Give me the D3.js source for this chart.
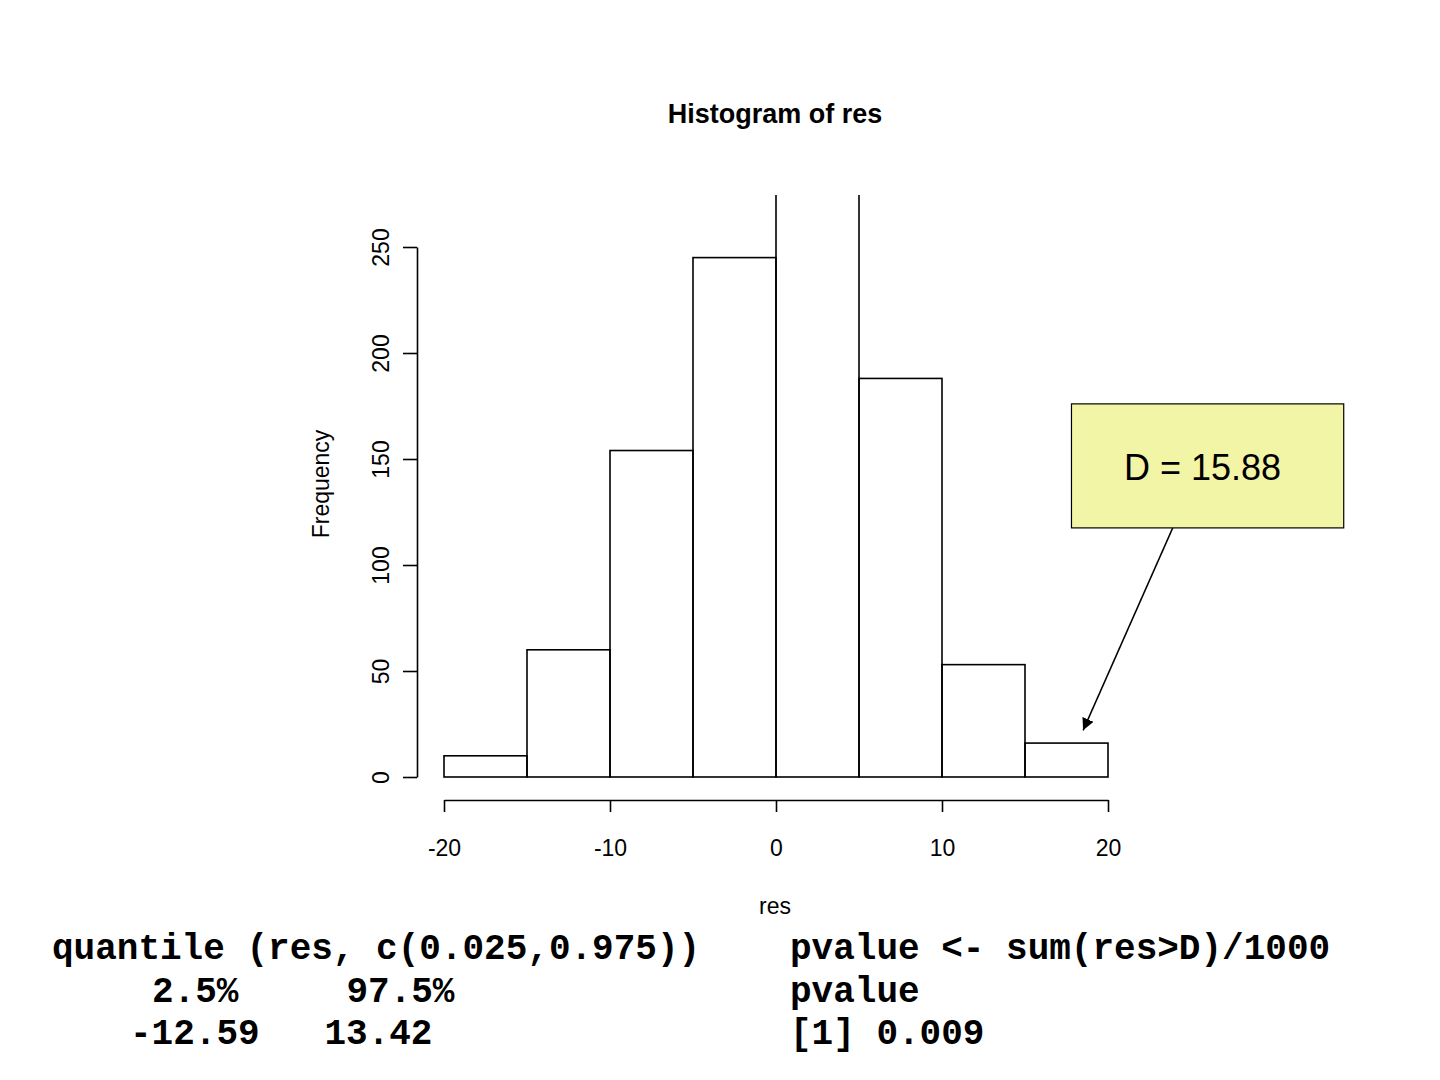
<!DOCTYPE html>
<html>
<head>
<meta charset="utf-8">
<script src="https://cdn.jsdelivr.net/npm/d3@7"></script>
<style>
  body { margin: 0; background: #fff; }
  svg { display: block; }
  .code { font-family: "Liberation Mono", "Courier New", monospace; font-weight: bold; font-size: 36px; white-space: pre; }
</style>
</head>
<body>
<svg id="chart"></svg>
<script>
// histogram bins of res (1000 permutations)
let binStarts = [-20, -15, -10, -5, 0, 5, 10, 15]
let binWidth = 5
let counts = [10, 60, 154, 245, 276, 188, 53, 16]

let xTicks = [-20, -10, 0, 10, 20]
let yTicks = [0, 50, 100, 150, 200, 250]

let D = 15.88
// callout box and arrow, in data units
let boxX = [17.8, 34.2]
let boxY = [117.5, 176]
let arrowFrom = [23.9, 117.5]
let arrowTo = [18.5, 22]

let leftLines = ['quantile (res, c(0.025,0.975))', '2.5%     97.5%', '-12.59   13.42']
let rightLines = ['pvalue <- sum(res>D)/1000', 'pvalue', '[1] 0.009']

let width = 1440
let height = 1080
let axisFont = '23px'

let svg = d3.select('#chart')
    .attr('width', width)
    .attr('height', height)
    .style('font-family', '"Liberation Sans", Arial, sans-serif')

let xScale = d3.scaleLinear().domain([-20, 20]).range([444, 1108])
let yScale = d3.scaleLinear().domain([0, 250]).range([777, 247])

// plot region clip (tall bar runs off the top)
let defs = svg.append('defs')
defs.append('clipPath').attr('id', 'plotclip')
    .append('rect').attr('x', 0).attr('y', 195).attr('width', width).attr('height', height - 195)
defs.append('marker')
    .attr('id', 'arrowhead')
    .attr('viewBox', '0 0 10 10')
    .attr('refX', 10).attr('refY', 5)
    .attr('markerWidth', 12).attr('markerHeight', 12)
    .attr('markerUnits', 'userSpaceOnUse')
    .attr('orient', 'auto')
    .append('path').attr('d', 'M0,0 L10,5 L0,10 z').attr('fill', '#000')

svg.append('text')
    .attr('x', 775).attr('y', 123)
    .attr('text-anchor', 'middle')
    .style('font-size', '27px').style('font-weight', 'bold')
    .text('Histogram of res')

svg.append('g')
    .attr('clip-path', 'url(#plotclip)')
    .selectAll('rect')
    .data(binStarts)
    .enter()
    .append('rect')
    .attr('x', (d) => xScale(d))
    .attr('width', (d) => xScale(d + binWidth) - xScale(d))
    .attr('y', (d, i) => yScale(counts[i]))
    .attr('height', (d, i) => yScale(0) - yScale(counts[i]))
    .attr('fill', 'none')
    .attr('stroke', '#000')
    .attr('stroke-width', 1.6)

// y axis
let yAxis = d3.axisLeft(yScale).tickValues(yTicks).tickSize(14).tickSizeOuter(0)
let yG = svg.append('g')
    .attr('transform', 'translate(417,0)')
    .call(yAxis)
yG.selectAll('path, line').attr('stroke-width', 1.6)
yG.selectAll('text')
    .attr('transform', 'rotate(-90)')
    .attr('x', 0).attr('y', -28).attr('dy', 0)
    .attr('text-anchor', 'middle')
    .style('font-size', axisFont)
    .style('font-family', '"Liberation Sans", Arial, sans-serif')

svg.append('text')
    .attr('transform', 'translate(329,484) rotate(-90)')
    .attr('text-anchor', 'middle')
    .style('font-size', axisFont)
    .text('Frequency')

// x axis
let xAxis = d3.axisBottom(xScale).tickValues(xTicks).tickSize(12).tickSizeOuter(0).tickPadding(28)
    .tickFormat((d) => String(d))
let xG = svg.append('g')
    .attr('transform', 'translate(0,800)')
    .call(xAxis)
xG.selectAll('path, line').attr('stroke-width', 1.6)
xG.selectAll('text')
    .style('font-size', axisFont)
    .style('font-family', '"Liberation Sans", Arial, sans-serif')

svg.append('text')
    .attr('x', 775).attr('y', 914)
    .attr('text-anchor', 'middle')
    .style('font-size', axisFont)
    .text('res')

// callout
svg.append('line')
    .attr('x1', xScale(arrowFrom[0])).attr('y1', yScale(arrowFrom[1]))
    .attr('x2', xScale(arrowTo[0])).attr('y2', yScale(arrowTo[1]))
    .attr('stroke', '#000').attr('stroke-width', 1.5)
    .attr('marker-end', 'url(#arrowhead)')

svg.append('rect')
    .attr('x', xScale(boxX[0])).attr('y', yScale(boxY[1]))
    .attr('width', xScale(boxX[1]) - xScale(boxX[0]))
    .attr('height', yScale(boxY[0]) - yScale(boxY[1]))
    .attr('fill', '#f2f5a6')
    .attr('stroke', '#000').attr('stroke-width', 1.2)

svg.append('text')
    .attr('x', (xScale(boxX[0]) + xScale(boxX[1])) / 2 - 5)
    .attr('y', 480)
    .attr('text-anchor', 'middle')
    .style('font-size', '36px')
    .text('D = ' + D.toFixed(2))

// R console text
let leftX = [52, 152, 130]
let lineY = [959, 1002, 1044]
svg.selectAll('.left')
    .data(leftLines)
    .enter()
    .append('text')
    .attr('class', 'code left')
    .attr('x', (d, i) => leftX[i])
    .attr('y', (d, i) => lineY[i])
    .text((d) => d)

svg.selectAll('.right')
    .data(rightLines)
    .enter()
    .append('text')
    .attr('class', 'code right')
    .attr('x', 790)
    .attr('y', (d, i) => lineY[i])
    .text((d) => d)
</script>
</body>
</html>
